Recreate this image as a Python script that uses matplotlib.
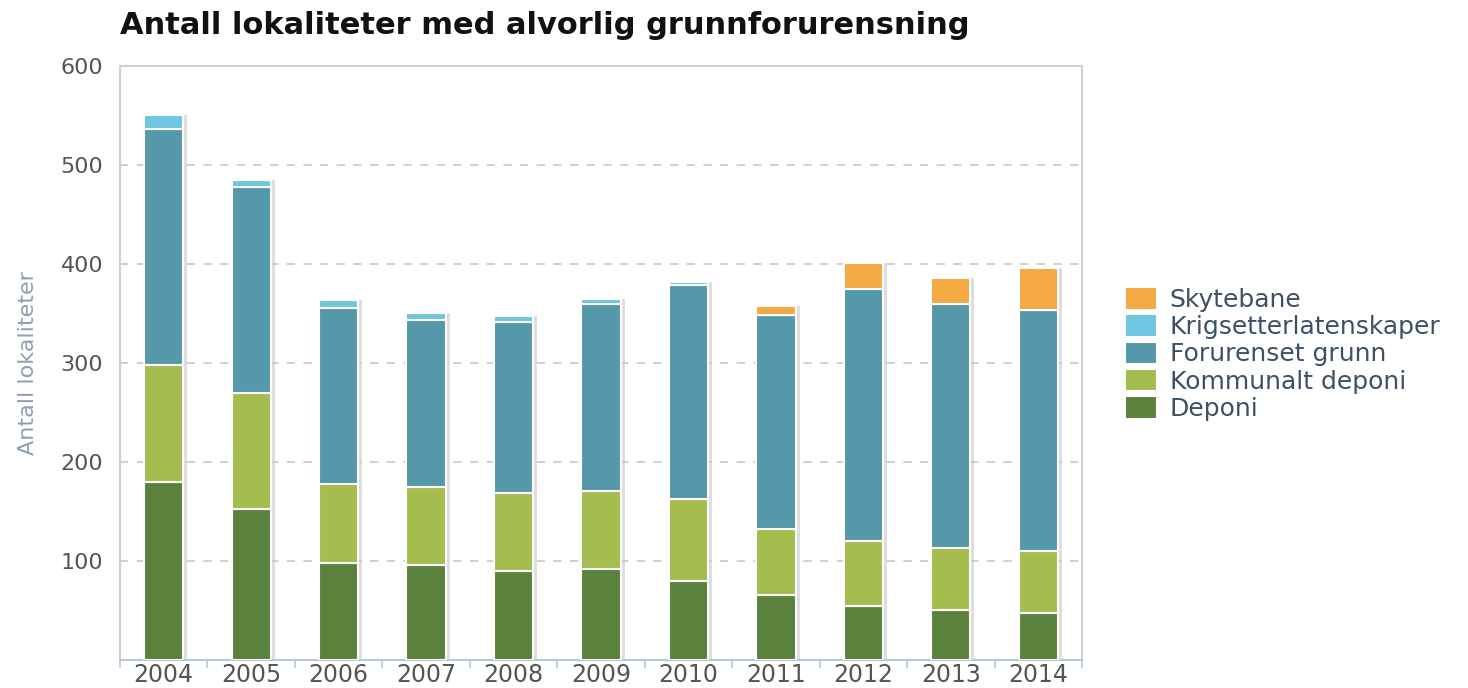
import matplotlib
import matplotlib.pyplot as plt
import numpy as np
matplotlib.use('Agg')

years = ['2004', '2005', '2006', '2007', '2008', '2009',
         '2010', '2011', '2012', '2013', '2014']
deponi = [180, 153, 98, 96, 90, 92, 80, 66, 55, 51, 47]
kommunalt = [118, 117, 80, 79, 79, 79, 83, 66, 65, 62, 63]
forurenset = [238, 208, 178, 168, 172, 189, 216, 216, 255, 247, 244]
krig = [15, 7, 8, 7, 6, 5, 3, 0, 0, 0, 0]
skytebane = [0, 0, 0, 0, 0, 0, 0, 10, 26, 26, 42]

series = [
    ('Deponi', deponi, '#5a823c'),
    ('Kommunalt deponi', kommunalt, '#a5bd4e'),
    ('Forurenset grunn', forurenset, '#5598aa'),
    ('Krigsetterlatenskaper', krig, '#6fc6e0'),
    ('Skytebane', skytebane, '#f4a942'),
]


def main():
    fig = plt.figure(figsize=(14.68, 6.88), dpi=100)
    ax = fig.add_axes([120 / 1468, 28 / 688, 962 / 1468, 594 / 688])

    x = np.arange(len(years))
    width = 0.45
    totals = np.sum([s[1] for s in series], axis=0)

    # shadow behind each bar
    ax.bar(x + 0.045, totals, width, bottom=0, color='#c4c4c4',
           alpha=0.55, zorder=2, linewidth=0)

    bottom = np.zeros(len(years))
    handles = []
    for name, vals, color in series:
        vals = np.array(vals, dtype=float)
        b = ax.bar(x, vals, width, bottom=bottom, color=color,
                   edgecolor='white', linewidth=1.5, zorder=3, label=name)
        handles.append(b)
        bottom += vals

    ax.set_xlim(-0.5, len(years) - 0.5)
    ax.set_ylim(0, 600)
    ax.set_yticks([100, 200, 300, 400, 500, 600])
    ax.set_xticks(x)
    ax.set_xticklabels(years)
    ax.set_xticks(np.arange(len(years) + 1) - 0.5, minor=True)

    ax.yaxis.grid(True, linestyle=(0, (5, 5)), color='#c8c8c8', linewidth=1.2)
    ax.set_axisbelow(True)

    for side in ['left', 'top', 'right']:
        ax.spines[side].set_color('#d0d0d0')
        ax.spines[side].set_linewidth(1.5)
    ax.spines['bottom'].set_color('#b8c8dc')
    ax.spines['bottom'].set_linewidth(1.5)

    ax.tick_params(axis='y', length=0, labelsize=16, labelcolor='#555555', pad=12)
    ax.tick_params(axis='x', which='major', length=0, labelsize=17,
                   labelcolor='#555555', pad=2)
    ax.tick_params(axis='x', which='minor', length=6, color='#b8c8dc', width=1.2)

    ax.set_ylabel('Antall lokaliteter', fontsize=16, color='#8e9fb5')
    ax.yaxis.set_label_coords(-0.085, 0.5)

    fig.text(120 / 1468, 1 - 25 / 688, 'Antall lokaliteter med alvorlig grunnforurensning',
             fontsize=22, fontweight='bold', color='#111111', va='center', ha='left')

    leg = fig.legend(handles[::-1], [s[0] for s in series][::-1],
                     loc='center left', bbox_to_anchor=(1102 / 1468, 1 - 354 / 688),
                     frameon=False, fontsize=18, handlelength=1.3, handleheight=1.0,
                     labelspacing=0.1, handletextpad=0.5)
    for t in leg.get_texts():
        t.set_color('#3d5066')

    plt.savefig('out.png')


if __name__ == '__main__':
    main()
